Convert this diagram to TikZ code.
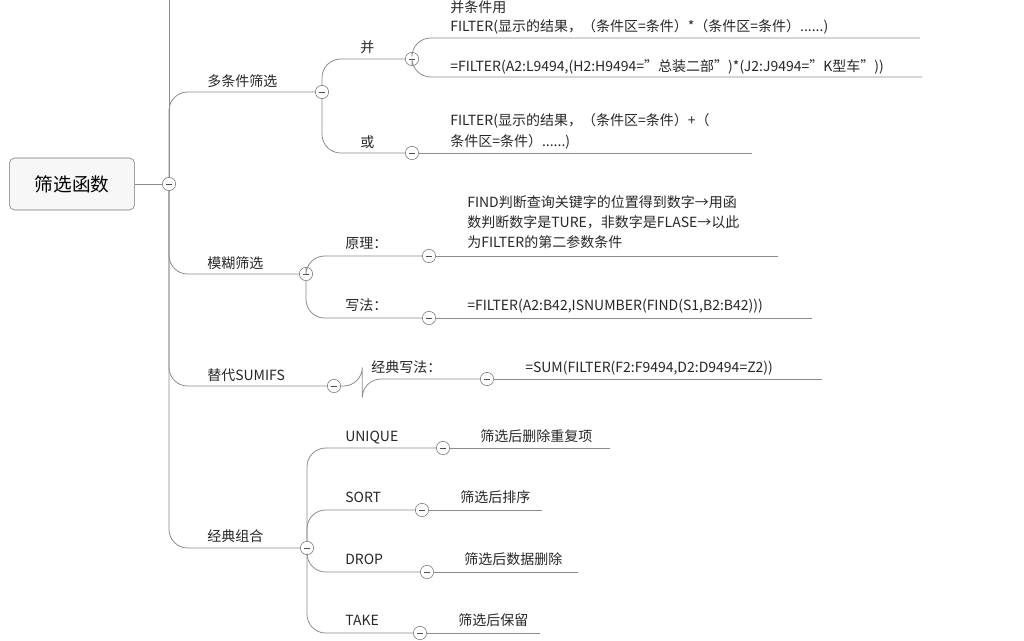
\documentclass[tikz,border=0pt]{standalone}
\usepackage{fontspec}
\setmainfont{Noto Sans CJK SC}
\begin{document}
\begin{tikzpicture}[x=0.75pt, y=-0.75pt,
  line/.style = {draw=black!45, line width=0.6pt, rounded corners=14pt},
  fold/.style = {circle, draw=black!55, fill=white, inner sep=0pt, minimum size=10pt,
    path picture={\draw[black!70, line width=0.5pt] ([xshift=-2.5pt]path picture bounding box.center) -- ([xshift=2.5pt]path picture bounding box.center);}},
  txt/.style = {anchor=base west, inner sep=0pt, font=\fontsize{10.5pt}{15pt}\selectfont, text=black!85}]
\useasboundingbox (0,0) rectangle (1024,640);

% root
\node[draw=black!55, fill=black!3, rounded corners=4pt, minimum width=94pt, minimum height=39pt,
  font=\fontsize{14pt}{16pt}\selectfont] (root) at (72,184) {筛选函数};
\node[fold] (c0) at (169,184) {};
\draw[line] (root.east) -- (c0.west);
\draw[line] (169,0) -- (c0.north);

% first level
\node[txt] (t1) at (207,86) {多条件筛选};
\node[txt] (t2) at (207,268) {模糊筛选};
\node[txt] (t3) at (207,380) {替代SUMIFS};
\node[txt] (t4) at (207,541) {经典组合};
\node[fold] (c1) at (322,92) {};
\node[fold] (c2) at (306,274) {};
\node[fold] (c3) at (334,386) {};
\node[fold] (c4) at (307,548) {};
\draw[line] (c0.north) |- (c1.west);
\draw[line] (c0.south) |- (c2.west);
\draw[line] (c0.south) |- (c3.west);
\draw[line] (c0.south) |- (c4.west);

% 多条件筛选
\node[txt] (t11) at (360,52) {并};
\node[txt] (t12) at (360,147) {或};
\node[fold] (c11) at (412,59) {};
\node[fold] (c12) at (412,153) {};
\draw[line] (c1.north) |- (c11.west);
\draw[line] (c1.south) |- (c12.west);
\node[txt] (t111) at (450,12) {并条件用};
\node[txt] (t112) at (450,31) {FILTER(显示的结果，（条件区=条件）*（条件区=条件）......)};
\node[txt] (t113) at (450,71) {=FILTER(A2:L9494,(H2:H9494="总装二部")*(J2:J9494="K型车"))};
\coordinate (e111) at (920,38);
\coordinate (e113) at (922,77);
\draw[line] (c11.north) |- (e111);
\draw[line] (c11.south) |- (e113);
\node[txt] (t121) at (450,125) {FILTER(显示的结果，（条件区=条件）+（};
\node[txt] (t122) at (450,146) {条件区=条件）......)};
\coordinate (e121) at (752,153);
\draw[line] (c12.east) -- (e121);

% 模糊筛选
\node[txt] (t21) at (345,248) {原理：};
\node[txt] (t22) at (345,310) {写法：};
\node[fold] (c21) at (429,256) {};
\node[fold] (c22) at (429,318) {};
\draw[line] (c2.north) |- (c21.west);
\draw[line] (c2.south) |- (c22.west);
\node[txt] (t211) at (467,207) {FIND判断查询关键字的位置得到数字→用函};
\node[txt] (t212) at (467,227) {数判断数字是TURE，非数字是FLASE→以此};
\node[txt] (t213) at (467,247) {为FILTER的第二参数条件};
\coordinate (e211) at (778,256);
\draw[line] (c21.east) -- (e211);
\node[txt] (t221) at (467,310) {=FILTER(A2:B42,ISNUMBER(FIND(S1,B2:B42)))};
\coordinate (e221) at (812,318);
\draw[line] (c22.east) -- (e221);

% 替代SUMIFS
\node[txt] (t31) at (371,372) {经典写法：};
\node[fold] (c31) at (487,379) {};
\draw[line] (c3.east) -- ++(16pt,0) |- (c31.west);
\node[txt] (t311) at (525,372) {=SUM(FILTER(F2:F9494,D2:D9494=Z2))};
\coordinate (e311) at (822,379);
\draw[line] (c31.east) -- (e311);

% 经典组合
\node[txt] (t41) at (345,441) {UNIQUE};
\node[txt] (t42) at (345,502) {SORT};
\node[txt] (t43) at (345,564) {DROP};
\node[txt] (t44) at (345,625) {TAKE};
\node[fold] (c41) at (443,448) {};
\node[fold] (c42) at (422,510) {};
\node[fold] (c43) at (427,572) {};
\node[fold] (c44) at (420,633) {};
\draw[line] (c4.north) |- (c41.west);
\draw[line] (c4.north) |- (c42.west);
\draw[line] (c4.south) |- (c43.west);
\draw[line] (c4.south) |- (c44.west);
\node[txt] (t411) at (480,441) {筛选后删除重复项};
\node[txt] (t421) at (460,502) {筛选后排序};
\node[txt] (t431) at (464,564) {筛选后数据删除};
\node[txt] (t441) at (458,625) {筛选后保留};
\coordinate (e411) at (610,448);
\coordinate (e421) at (542,510);
\coordinate (e431) at (578,572);
\coordinate (e441) at (540,633);
\draw[line] (c41.east) -- (e411);
\draw[line] (c42.east) -- (e421);
\draw[line] (c43.east) -- (e431);
\draw[line] (c44.east) -- (e441);
\end{tikzpicture}
\end{document}
